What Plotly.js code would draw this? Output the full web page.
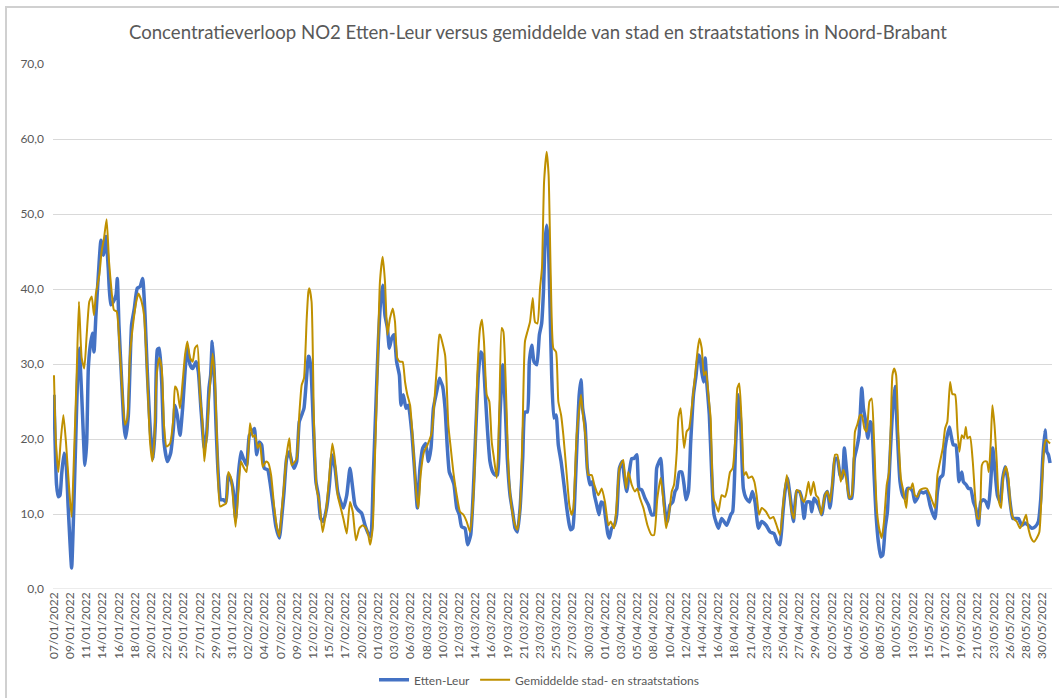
<!DOCTYPE html>
<html>
<head>
<meta charset="utf-8">
<script src="https://cdn.plot.ly/plotly-3.0.1.min.js"></script>
<style>
  html, body { margin: 0; padding: 0; background: #ffffff; }
  #chart { width: 1059px; height: 698px; }
  #frame { position: absolute; left: 5px; top: 6px; width: 1060px; height: 700px;
           border-left: 2px solid #d0d0d0; border-top: 2px solid #d0d0d0; pointer-events: none; }
</style>
</head>
<body>
<div id="chart"></div>
<div id="frame"></div>
<script>
// Tick labels (category axis, one label per tick position 0..61)
const labels = ["07/01/2022","09/01/2022","11/01/2022","14/01/2022","16/01/2022","18/01/2022","20/01/2022","22/01/2022","25/01/2022","27/01/2022",
"29/01/2022","31/01/2022","02/02/2022","04/02/2022","07/02/2022","09/02/2022","12/02/2022","15/02/2022","17/02/2022","20/02/2022",
"01/03/2022","03/03/2022","06/03/2022","08/03/2022","10/03/2022","12/03/2022","14/03/2022","16/03/2022","19/03/2022","21/03/2022",
"23/03/2022","25/03/2022","27/03/2022","30/03/2022","01/04/2022","03/04/2022","05/04/2022","08/04/2022","10/04/2022","12/04/2022",
"14/04/2022","16/04/2022","18/04/2022","21/04/2022","23/04/2022","25/04/2022","27/04/2022","29/04/2022","02/05/2022","04/05/2022",
"06/05/2022","08/05/2022","10/05/2022","13/05/2022","15/05/2022","17/05/2022","19/05/2022","21/05/2022","23/05/2022","26/05/2022",
"28/05/2022","30/05/2022"];

// Etten-Leur: position along the category axis (in label steps) and NO2 value
const ettenT = [0,0.16,0.27,0.37,0.47,0.62,0.74,0.88,1.09,1.19,1.34,1.46,1.56,1.71,1.91,2.02,2.12,2.22,2.37,2.47,2.59,2.74,2.90,3.05,3.21,3.35,3.50,3.66,3.83,3.91,4.01,4.18,4.32,4.42,4.59,4.79,4.96,5.14,5.31,5.47,5.62,5.76,5.97,6.13,6.26,6.38,6.50,6.65,6.79,7.00,7.20,7.37,
7.47,7.61,7.78,7.94,8.09,8.23,8.40,8.56,8.77,8.91,9.07,9.28,9.42,9.57,9.67,9.77,9.88,10.0,10.14,10.29,10.45,10.62,10.76,10.93,11.07,11.21,11.38,11.54,11.69,11.89,12.06,12.2,12.37,12.51,12.67,12.82,12.98,13.19,13.33,13.5,13.7,13.91,14.05,14.2,14.36,14.53,14.67,14.81,14.98,15.14,15.29,15.43,15.60,15.70,
15.74,15.86,16.01,16.17,16.32,16.46,16.63,16.83,17.0,17.16,17.35,17.51,17.70,17.86,18.07,18.27,18.44,18.58,18.79,18.99,19.2,19.4,19.55,19.71,19.88,20.02,20.16,20.29,20.43,20.58,20.7,20.84,20.99,21.15,21.32,21.42,21.56,21.73,21.87,22.08,22.28,22.43,22.59,22.76,22.94,23.11,23.27,23.42,23.62,23.79,
23.83,23.99,24.14,24.28,24.40,24.55,24.69,24.86,25.02,25.16,25.37,25.53,25.72,25.88,26.05,26.19,26.34,26.46,26.6,26.75,26.91,27.08,27.22,27.37,27.53,27.7,27.84,27.98,28.15,28.31,28.46,28.6,28.77,28.93,29.07,29.22,29.34,29.49,29.63,29.8,29.96,30.1,30.21,30.31,30.41,30.51,30.62,30.72,30.86,30.99,31.13,31.3,31.48,31.65,31.81,
31.89,32.02,32.16,32.3,32.42,32.53,32.63,32.78,32.92,33.09,33.23,33.36,33.5,33.64,33.77,33.91,34.05,34.18,34.28,34.42,34.59,34.73,34.9,35.07,35.21,35.35,35.51,35.66,35.8,35.97,36.11,36.28,36.48,36.69,36.89,37.04,37.2,37.35,37.45,37.57,37.72,37.86,38.02,38.19,38.33,38.44,38.6,38.75,38.89,39.01,39.16,39.3,39.47,39.63,39.77,39.88,
39.98,40.09,40.19,40.29,40.45,40.6,40.74,41.01,41.21,41.52,41.77,41.89,42.08,42.24,42.39,42.55,42.72,42.92,43.11,43.27,43.48,43.68,43.95,44.2,44.44,44.65,44.81,44.98,45.12,45.27,45.43,45.64,45.84,46.01,46.15,46.3,46.46,46.67,46.77,46.91,47.18,47.39,
47.59,47.74,47.9,48.07,48.21,48.35,48.52,48.66,48.78,48.93,49.09,49.24,49.4,49.55,49.69,49.86,49.96,50.1,50.23,50.37,50.47,50.62,50.74,50.88,51.03,51.15,51.3,51.44,51.6,51.77,51.91,52.06,52.22,52.39,52.53,52.67,52.84,53.0,53.14,53.29,53.46,53.66,53.87,54.07,54.23,54.38,
54.53,54.69,54.86,55.0,55.14,55.27,55.37,55.51,55.66,55.76,55.86,56.03,56.13,56.3,56.44,56.58,56.75,56.89,57.06,57.2,57.37,57.53,57.67,57.82,57.94,58.09,58.23,58.4,58.56,58.71,58.85,59.01,59.18,59.32,59.53,59.73,59.94,60.14,60.35,60.56,60.76,60.91,61.03,61.17,61.28,61.38,61.48];
const ettenV = [25.9,13.9,12.3,12.5,15.2,18.1,17,10.8,2.8,8.5,19.6,28.5,32.1,25.9,16.5,19.6,29.4,32.1,34.1,31.6,36.5,41.9,46.5,44.5,47,42.8,37.9,38.3,39.2,41.4,35.2,27.6,21.9,20.1,23.2,35.2,37.4,40.1,40.3,41.4,36.5,29,20.5,17.4,22.3,31.9,32.1,27.6,19.6,17,18.1,21.4,
24.5,23.2,20.5,24.1,29,32.1,29.9,29.4,30.3,29,24.1,18.8,20.5,26.8,28.5,33,29.4,21.9,15.2,11.9,11.9,11.6,15.2,14.5,13,9.4,15.2,18.3,17.4,16.5,20.5,20.8,21.4,17.9,19.6,19.2,16.1,15.9,14.3,11.6,8.3,6.8,9.4,13,17.4,18.3,17,16.1,17,22.3,23.2,24.1,28.5,31,
31,29.4,21.9,14.3,12.5,9.4,9,10.8,13.9,17.9,16.1,13,11.6,10.8,12.5,16.1,13.4,11.2,10.5,10.1,8.5,7.4,7,15.2,25,33,38.3,40.5,36.5,34.8,32.1,33.4,33.9,30.3,28.5,24.5,25.9,24.1,24.5,21,15.2,10.8,16.1,18.8,19.4,17,18.8,24.1,26.3,28.1,
27.9,27,24.1,18.8,15.6,14.8,13.9,10.8,9.9,8.3,8.1,5.9,7.2,13,21.9,28.5,31.6,31.2,26.8,21.4,17,15.6,15.2,15.2,23.2,29.9,25,17.4,12.5,10.3,8.1,7.6,10.8,17.4,23.6,23.6,30.3,32.5,30.3,29.9,33.9,35.4,39.6,46.3,48.5,46.3,37.4,28.5,22.8,23.2,19.2,17,13.9,10.8,8.5,
7.9,8.1,13,20.5,25.9,27.9,24.1,21.9,16.1,13.9,14.3,12.5,11.2,9.9,11.6,11.4,9.4,7.4,6.8,8.1,8.5,9.9,16.1,17,14.8,13,15.6,17.4,17.4,17.9,13.4,13.2,12.1,11.2,9.9,9.9,16.1,17,17.4,13.9,10.3,9,11.2,11.6,13,13.4,15.6,15.6,13.9,11.9,13,19.6,25.9,28.5,31.2,30.8,
29,27.6,30.8,27.6,23.2,15.2,9.9,8.1,9.4,8.5,9.9,10.3,19.6,25.9,22,13.4,12.1,11.6,13,11.6,8.1,9,8.5,7.6,7.4,6.2,5.9,9.9,13,14.8,12.5,9,13,13,12.1,9.4,11.6,11.6,10.3,12.1,11.2,9.9,
12.5,13,10.8,14.3,17.4,17.4,15.2,14.8,18.8,15.6,12.1,12.1,17.4,18.8,20.5,26.8,24.1,22.3,20.1,22.3,21.9,15.2,9.9,6.3,4.3,4.5,8.1,10.3,17.4,24.1,27,20.5,14.3,12.5,12.1,13.4,13.4,13,11.6,12.1,13,12.8,13,11.2,10.1,9.4,
13,14.8,15.2,18.8,20.5,21.6,20.5,19.2,19.2,17.4,14.3,15.6,14.3,13.9,13.4,13.4,11.6,10.8,8.5,11.6,11.9,11.6,10.8,14.3,18.8,15.6,12.5,11.6,14.8,16.3,14.8,11.6,9.4,9.4,9.4,8.5,8.8,8.5,8.1,8.3,9,12.1,17.4,21.2,18.3,17.9,16.8];

// Gemiddelde stad- en straatstations
const gemT = [0,0.12,0.27,0.41,0.58,0.74,0.95,1.09,1.23,1.40,1.54,1.71,1.87,2.02,2.18,2.33,2.47,2.59,2.80,2.94,3.09,3.25,3.40,3.56,3.70,3.87,4.03,4.18,4.38,4.53,4.69,4.90,5.06,5.21,5.41,5.56,5.72,5.93,6.07,6.19,6.34,6.50,6.65,6.79,6.95,7.16,7.37,
7.47,7.61,7.78,7.94,8.09,8.23,8.40,8.56,8.70,8.85,9.01,9.16,9.28,9.42,9.59,9.79,9.94,10.08,10.25,10.45,10.62,10.76,10.93,11.07,11.21,11.38,11.54,11.69,11.89,12.10,12.27,12.41,12.57,12.72,12.88,13.09,13.23,13.40,13.58,13.74,13.91,14.05,14.2,14.36,14.53,14.67,14.81,14.98,15.14,15.29,15.43,15.60,15.70,
15.76,15.9,16.05,16.21,16.38,16.58,16.79,17.0,17.18,17.35,17.51,17.70,17.86,18.07,18.27,18.44,18.64,18.85,19.05,19.26,19.4,19.51,19.67,19.81,19.96,20.12,20.29,20.43,20.58,20.74,20.91,21.05,21.19,21.36,21.52,21.67,21.81,21.98,22.18,22.35,22.49,22.63,22.84,23.05,23.31,23.52,23.67,23.79,
23.83,24.14,24.34,24.49,24.65,24.86,25.06,25.27,25.47,25.68,25.84,25.99,26.13,26.3,26.42,26.54,26.71,26.87,27.02,27.16,27.33,27.49,27.63,27.74,27.9,28.07,28.25,28.46,28.6,28.77,28.93,29.07,29.22,29.38,29.55,29.69,29.84,30.0,30.12,30.25,30.41,30.53,30.66,30.82,30.99,31.13,31.3,31.44,31.65,31.81,
31.95,32.06,32.16,32.26,32.43,32.53,32.67,32.84,32.98,33.19,33.35,33.6,33.81,34.01,34.22,34.36,34.57,34.73,34.9,35.14,35.31,35.45,35.66,35.86,36.0,36.17,36.38,36.63,36.89,37.04,37.24,37.45,37.61,37.78,37.98,38.13,38.27,38.44,38.54,38.68,38.89,39.05,39.2,39.36,39.57,39.74,39.84,
39.98,40.12,40.25,40.39,40.53,40.7,40.86,41.01,41.21,41.42,41.56,41.73,41.89,42.04,42.18,42.3,42.45,42.6,42.72,42.86,43.07,43.23,43.37,43.52,43.68,43.95,44.2,44.4,44.6,44.81,45.02,45.23,45.39,45.53,45.68,45.84,46.01,46.15,46.3,46.42,46.57,46.71,46.88,47.04,47.18,47.35,
47.59,47.74,47.9,48.07,48.21,48.35,48.56,48.72,48.88,49.09,49.24,49.44,49.58,49.75,49.86,50.02,50.16,50.33,50.47,50.62,50.78,50.93,51.09,51.23,51.4,51.54,51.65,51.75,51.86,51.98,52.12,52.27,52.43,52.6,52.74,52.88,53.0,53.14,53.29,53.46,53.66,53.87,54.07,54.23,54.38,
54.53,54.69,54.86,55.0,55.14,55.31,55.45,55.62,55.76,55.88,56.03,56.17,56.28,56.38,56.54,56.71,56.85,57.0,57.12,57.27,57.41,57.58,57.7,57.82,57.92,58.05,58.19,58.33,58.46,58.6,58.76,58.91,59.05,59.22,59.42,59.63,59.84,60.0,60.14,60.31,60.49,60.66,60.82,60.97,61.11,61.23,61.38,61.48];
const gemV = [28.5,19.6,15.6,19.6,23.2,19.6,13,9.6,17.4,28.5,38.3,30.8,29.4,33.9,38.3,39,36.5,39.4,41.9,45,46.8,49.3,43.6,39.6,37.2,37,33,27.6,21.9,22.8,31.2,35.6,38.1,39.4,38.3,36.5,30.3,19.6,17,19.6,28.5,30.8,29.4,21.9,19,19.4,22.8,
27,26.5,24.1,27.6,31.2,33,30.8,30.3,32.1,32.5,25.9,22.3,17,20.1,25.9,31.4,27.6,18.8,11,11.2,11.4,15.6,14.8,11.6,8.3,13,17,16.3,15.6,22.1,20.3,20.5,18.8,19.4,16.3,17,16.8,15.2,11.2,8.5,7,10.3,13.9,17.9,20.1,16.5,16.8,17.4,23.2,27.2,28.1,36.1,39.6,
40.1,38.3,21.9,13.4,11.6,7.6,10.3,15.2,19.4,17,12.5,10.8,9.4,7.4,11.6,10.3,6.5,8.1,8.5,8.1,7.2,5.9,8.1,17.4,28.5,41,44.3,41,33.9,36.1,37.4,35.6,30.8,30.3,30.3,27.6,25.9,24.5,18.8,13,10.8,15.2,18.3,19.2,20.8,26.3,30.8,33.9,
33.9,31.2,21.9,18.8,15.6,12.5,10.3,9.9,9,7.6,10.8,17.4,28.5,34.8,35.9,33,25.9,25,19.6,17.4,14.8,24.1,34.8,34.3,26.3,15.2,10.8,8.5,7.9,10.8,21.9,33,34.3,35.6,38.8,35.6,35.4,40.1,42.8,54.3,58.3,55.2,41.9,32.1,31.6,25,23.2,20.5,15.2,11.2,
9.9,10.8,15.2,20.5,24.1,25.9,22.8,19.6,15.2,15.2,13.9,12.5,13.4,11.6,8.5,9,8.1,11.2,16.1,17.2,13.4,15.6,13.9,13,13.4,12.1,10.8,8.5,7.2,7.2,12.1,14.8,11.9,8.1,10.3,13,13.9,18.3,22.8,24.1,18.8,21,21.4,24.1,28.5,32.1,33.4,
32.1,28.5,29,25.9,22.8,12.1,11.2,10.3,12.5,12.3,13.4,15.6,16.1,19.6,26.8,27.4,21.9,15.2,15.6,14.8,15,14.3,12.5,9.9,10.8,10.3,9.4,9.6,8.5,7.2,11.6,15.2,13,10.3,9.4,13.2,13,12.1,11.6,12.5,14.3,12.5,14.3,12.5,12.1,9.9,
12.5,13,11.6,14.8,17.9,17.9,14.3,15.9,14.8,12.1,12.5,21,21.9,23.2,23.2,21.4,21,25,25.4,19.6,10.8,8.1,6.8,9,13.9,15.6,21.9,28.5,29.4,28.5,20.5,14.8,13,10.8,13.4,13.4,14.1,12.5,12.3,13.2,13.4,13.4,12.5,11.6,10.8,
15.2,17,18.8,21.4,22.3,27.6,26,25.9,21.4,18.3,20.5,20.1,21.6,20.1,20.3,17,12.5,9.4,9.4,16.5,17,17,15.6,19.6,24.5,21.9,17,11.6,10.8,15.2,16.3,14.8,10.8,9.4,9,8.1,9,9.9,8.1,6.8,6.3,6.8,7.6,13.4,18.8,19.9,19.6,19.4];

const yTicks = [0,10,20,30,40,50,60,70];
const tickPos = labels.map((_, i) => i);

const FONT = "Lato, 'Open Sans', sans-serif";
const GREY = "#595959";

const traces = [
  { x: ettenT, y: ettenV, name: "Etten-Leur", type: "scatter", mode: "lines",
    line: { color: "#4472C4", width: 3.5, shape: "spline", smoothing: 0.5 } },
  { x: gemT, y: gemV, name: "Gemiddelde stad- en straatstations", type: "scatter", mode: "lines",
    line: { color: "#BF9000", width: 2, shape: "spline", smoothing: 0.5 } }
];

const layout = {
  width: 1059, height: 698,
  margin: { l: 53, r: 7, t: 64, b: 109 },
  paper_bgcolor: "#ffffff", plot_bgcolor: "#ffffff",
  separators: ",.",
  font: { family: FONT, color: GREY, size: 12 },
  title: { text: "Concentratieverloop NO2 Etten-Leur versus gemiddelde van stad en straatstations in Noord-Brabant",
           font: { family: FONT, size: 18.6, color: GREY }, x: 0.508, xanchor: "center", y: 0.953, yanchor: "middle" },
  xaxis: { range: [-0.06, 61.6], tickvals: tickPos, ticktext: labels, tickangle: -90,
           showgrid: false, zeroline: false, showline: false, ticks: "",
           tickfont: { family: FONT, size: 12, color: GREY }, fixedrange: true },
  yaxis: { range: [0, 70], tickvals: yTicks, tickformat: ".1f", showgrid: true, gridcolor: "#d9d9d9",
           gridwidth: 1, zeroline: false, showline: false, ticks: "", ticklabelstandoff: 8,
           tickfont: { family: FONT, size: 12, color: GREY }, fixedrange: true },
  showlegend: true,
  legend: { orientation: "h", xref: "container", yref: "container", x: 0.509, xanchor: "center",
            y: 0.026, yanchor: "middle",
            font: { family: FONT, size: 12, color: GREY }, itemwidth: 30 },
  shapes: [{ type: "line", xref: "paper", yref: "y", x0: 0, x1: 1, y0: 0, y1: 0,
             line: { color: "#d9d9d9", width: 1 }, layer: "below" }]
};

Plotly.newPlot("chart", traces, layout, { displayModeBar: false, staticPlot: true });
</script>
</body>
</html>
